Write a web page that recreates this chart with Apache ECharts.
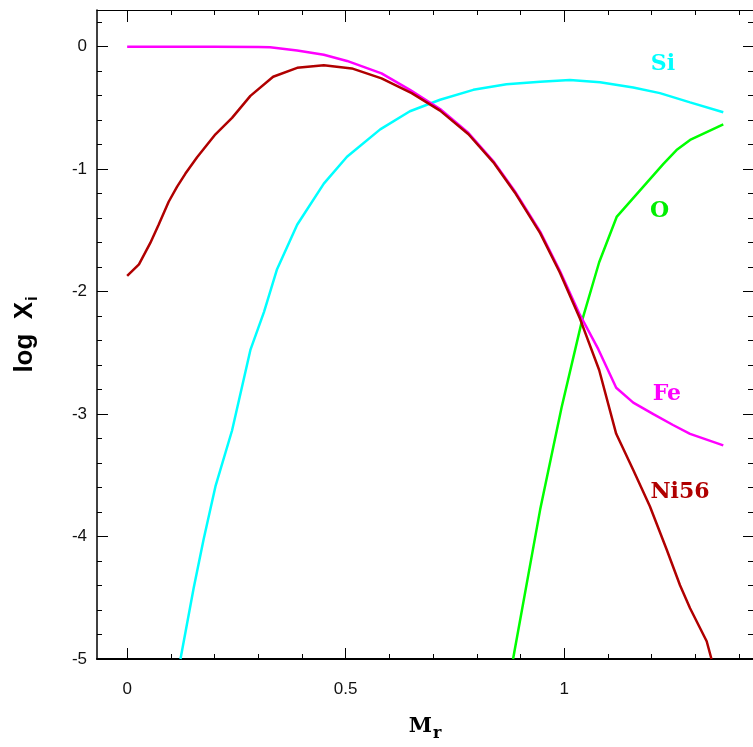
<!DOCTYPE html>
<html>
<head>
<meta charset="utf-8">
<script src="https://cdn.jsdelivr.net/npm/echarts@6/dist/echarts.min.js"></script>
<style>html,body{margin:0;padding:0;background:#fff}#c{width:753px;height:747px}</style>
</head>
<body>
<div id="c"></div>
<script>
// ---- data ----
const niX = [0, 0.027, 0.053, 0.072, 0.095, 0.114, 0.133, 0.160, 0.202, 0.240, 0.282, 0.334, 0.389, 0.450, 0.514, 0.582, 0.651, 0.716, 0.781, 0.838, 0.887, 0.945, 0.990, 1.036, 1.080, 1.119, 1.158, 1.196, 1.234, 1.265, 1.288, 1.326, 1.337];
const niY = [-1.871, -1.777, -1.602, -1.454, -1.266, -1.145, -1.038, -0.903, -0.715, -0.581, -0.401, -0.245, -0.172, -0.151, -0.177, -0.258, -0.379, -0.522, -0.715, -0.944, -1.19, -1.522, -1.844, -2.22, -2.64, -3.161, -3.457, -3.752, -4.102, -4.398, -4.586, -4.855, -5.0];

const feX = [0, 0.1, 0.2, 0.3, 0.327, 0.389, 0.450, 0.503, 0.582, 0.647, 0.716, 0.781, 0.838, 0.887, 0.945, 0.990, 1.036, 1.078, 1.119, 1.158, 1.204, 1.249, 1.288, 1.364];
const feY = [0, 0, 0, -0.002, -0.004, -0.03, -0.065, -0.116, -0.218, -0.352, -0.508, -0.705, -0.935, -1.18, -1.51, -1.83, -2.19, -2.47, -2.785, -2.906, -3.0, -3.089, -3.161, -3.255];

const siX = [0.122, 0.152, 0.175, 0.202, 0.240, 0.282, 0.313, 0.343, 0.389, 0.450, 0.503, 0.579, 0.647, 0.716, 0.792, 0.868, 0.945, 1.013, 1.082, 1.158, 1.219, 1.288, 1.364];
const siY = [-5.0, -4.425, -4.022, -3.591, -3.134, -2.476, -2.167, -1.817, -1.454, -1.118, -0.898, -0.675, -0.527, -0.433, -0.352, -0.306, -0.285, -0.271, -0.29, -0.333, -0.379, -0.454, -0.535];

const oX = [0.883, 0.945, 0.994, 1.040, 1.080, 1.120, 1.227, 1.257, 1.288, 1.364];
const oY = [-5.0, -3.78, -2.946, -2.247, -1.76, -1.39, -0.957, -0.844, -0.761, -0.634];

const xMajorTicks = [0, 0.5, 1];
const xMinorTicks = [0.1, 0.2, 0.3, 0.4, 0.6, 0.7, 0.8, 0.9, 1.1, 1.2, 1.3, 1.4];
const yMajorTicks = [0, -1, -2, -3, -4, -5];
const yMinorTicks = [0.2, -0.2, -0.4, -0.6, -0.8, -1.2, -1.4, -1.6, -1.8, -2.2, -2.4, -2.6, -2.8, -3.2, -3.4, -3.6, -3.8, -4.2, -4.4, -4.6, -4.8];

const seriesNames = ['Si', 'O', 'Fe', 'Ni56'];

// ---- chart ----
const zip = (xs, ys) => xs.map((x, i) => [x, ys[i]]);
const XMIN = -0.069, XMAX = 1.432, YMIN = -5, YMAX = 0.3;
const tickFont = 'Liberation Sans, Arial, sans-serif';
const serifFont = 'DejaVu Serif, serif';

function line(show, width) {
  return { show: show, onZero: false, lineStyle: { color: '#000', width: width || 1 } };
}
function xAx(pos, vals, len, opts) {
  return Object.assign({
    type: 'value', position: pos, min: XMIN, max: XMAX,
    axisLine: line(true, 1),
    axisTick: { show: true, inside: true, length: len, customValues: vals, lineStyle: { color: '#000', width: 1 } },
    axisLabel: { show: false },
    splitLine: { show: false }
  }, opts || {});
}
function yAx(pos, vals, len, opts) {
  return Object.assign({
    type: 'value', position: pos, min: YMIN, max: YMAX,
    axisLine: line(true, 1),
    axisTick: { show: true, inside: true, length: len, customValues: vals, lineStyle: { color: '#000', width: 1 } },
    axisLabel: { show: false },
    splitLine: { show: false }
  }, opts || {});
}

function lbl(text, coord, color) {
  return {
    symbol: 'circle', symbolSize: 0, silent: true,
    data: [{ coord: coord }],
    label: { show: true, position: 'inside', formatter: text, color: color,
      fontFamily: serifFont, fontWeight: 'bold', fontSize: 22 }
  };
}

const option = {
  animation: false,
  backgroundColor: '#fff',
  grid: { left: 97, right: 0, top: 10, bottom: 80, containLabel: false },
  xAxis: [
    xAx('bottom', xMajorTicks, 11, {
      axisLine: line(true, 2),
      axisLabel: { show: true, customValues: xMajorTicks, margin: 22, color: '#111', fontSize: 17, fontFamily: tickFont },
      name: 'M{s|r}', nameLocation: 'middle', nameGap: 53,
      nameTextStyle: { fontFamily: serifFont, fontWeight: 'bold', fontSize: 21, color: '#000',
        rich: { s: { fontFamily: serifFont, fontWeight: 'bold', fontSize: 16, color: '#000', padding: [14, 0, 0, 1] } } }
    }),
    xAx('bottom', xMinorTicks, 5, { axisLine: line(false) }),
    xAx('top', xMajorTicks, 12),
    xAx('top', xMinorTicks, 5, { axisLine: line(false) })
  ],
  yAxis: [
    yAx('left', yMajorTicks, 11, {
      axisLine: line(true, 1.5),
      axisLabel: { show: true, customValues: yMajorTicks, margin: 10, color: '#111', fontSize: 17, fontFamily: tickFont },
      name: 'log  X{s|i}', nameLocation: 'middle', nameGap: 56, nameRotate: 90,
      nameTextStyle: { fontFamily: tickFont, fontWeight: 'bold', fontSize: 26, color: '#000',
        rich: { s: { fontFamily: tickFont, fontWeight: 'bold', fontSize: 16, color: '#000', padding: [16, 0, 0, 1] } } }
    }),
    yAx('left', yMinorTicks, 5, { axisLine: line(false) }),
    yAx('right', yMajorTicks, 10, { axisLine: line(false) }),
    yAx('right', yMinorTicks, 5, { axisLine: line(false) })
  ],
  series: [
    { name: seriesNames[0], type: 'line', data: zip(siX, siY), showSymbol: false, symbol: 'none',
      lineStyle: { color: '#00ffff', width: 2.5 }, itemStyle: { color: '#00ffff' },
      markPoint: lbl('Si', [1.226, -0.14], '#00ffff') },
    { name: seriesNames[1], type: 'line', data: zip(oX, oY), showSymbol: false, symbol: 'none',
      lineStyle: { color: '#00ff00', width: 2.5 }, itemStyle: { color: '#00ff00' },
      markPoint: lbl('O', [1.218, -1.34], '#00ee00') },
    { name: seriesNames[2], type: 'line', data: zip(feX, feY), showSymbol: false, symbol: 'none',
      lineStyle: { color: '#ff00ff', width: 2.5 }, itemStyle: { color: '#ff00ff' },
      markPoint: lbl('Fe', [1.235, -2.84], '#ff00ff') },
    { name: seriesNames[3], type: 'line', data: zip(niX, niY), showSymbol: false, symbol: 'none',
      lineStyle: { color: '#b00000', width: 2.5 }, itemStyle: { color: '#b00000' },
      markPoint: lbl('Ni56', [1.265, -3.64], '#b00000') }
  ]
};

const chart = echarts.init(document.getElementById('c'), null, { renderer: 'canvas' });
chart.setOption(option);
</script>
</body>
</html>
